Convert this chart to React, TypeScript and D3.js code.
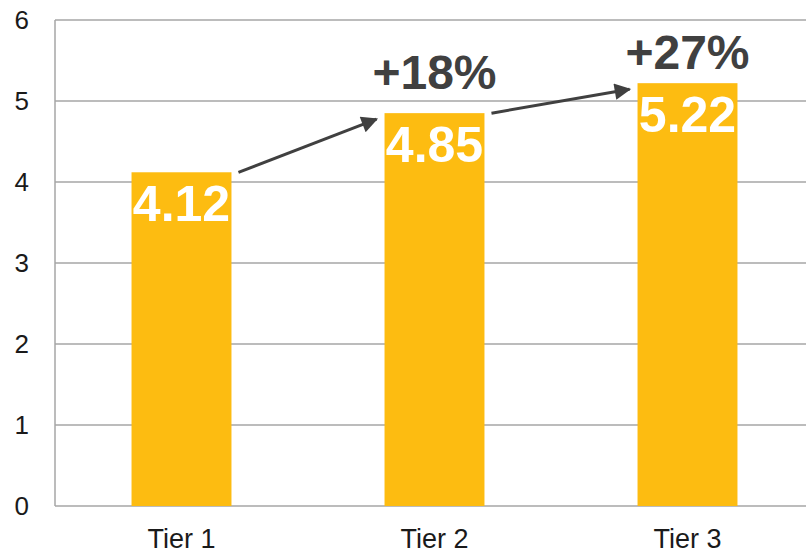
import React from "react";
import * as d3 from "d3";

const categories = ["Tier 1", "Tier 2", "Tier 3"];
const values = [4.12, 4.85, 5.22];
const valueLabels = ["4.12", "4.85", "5.22"];
const yTicks = [0, 1, 2, 3, 4, 5, 6];
const growthLabels = ["+18%", "+27%"];
const growthLevels = [5.15, 5.39];

const W = 806;
const H = 555;
const left = 55;
const top = 20;
const bottom = 506;

export default function App() {
  const x = d3
    .scaleBand<string>()
    .domain(categories)
    .range([left, 814])
    .paddingInner(0.605)
    .paddingOuter(0.3025);
  const y = d3.scaleLinear().domain([0, 6]).range([bottom, top]);
  const bw = x.bandwidth();
  const font = "'Liberation Sans', Arial, sans-serif";
  const dark = "#404040";

  return (
    <svg
      width={W}
      height={H}
      style={{ position: "absolute", left: 0, top: 0, background: "#fff" }}
    >
      <defs>
        <marker
          id="ah"
          viewBox="0 0 10 10"
          refX="9"
          refY="5"
          markerWidth="7"
          markerHeight="5.5"
          markerUnits="strokeWidth"
          orient="auto"
        >
          <path d="M0,0 L10,5 L0,10 z" fill={dark} />
        </marker>
      </defs>
      {yTicks.map((t) => (
        <g key={t}>
          <line
            x1={left}
            x2={W}
            y1={y(t)}
            y2={y(t)}
            stroke="#a6a6a6"
            strokeWidth={1.5}
          />
          <text
            x={29}
            y={y(t)}
            dy="0.36em"
            textAnchor="end"
            fontFamily={font}
            fontSize={26}
            fill="#1a1a1a"
          >
            {t}
          </text>
        </g>
      ))}
      <line x1={left} x2={left} y1={top} y2={bottom} stroke="#a6a6a6" strokeWidth={1.5} />
      {categories.map((c, i) => (
        <g key={c}>
          <rect
            x={x(c)}
            y={y(values[i])}
            width={bw}
            height={bottom - y(values[i])}
            fill="#FDBC11"
          />
          <text
            x={(x(c) as number) + bw / 2}
            y={y(values[i]) + 49}
            textAnchor="middle"
            fontFamily={font}
            fontWeight="bold"
            fontSize={50}
            fill="#fff"
          >
            {valueLabels[i]}
          </text>
          <text
            x={(x(c) as number) + bw / 2}
            y={bottom + 42}
            textAnchor="middle"
            fontFamily={font}
            fontSize={27}
            fill="#1a1a1a"
          >
            {c}
          </text>
        </g>
      ))}
      {growthLabels.map((g, i) => {
        const from = categories[i];
        const to = categories[i + 1];
        const x1 = (x(from) as number) + bw + 7;
        const y1 = y(values[i]);
        const x2 = (x(to) as number) - 8;
        const y2 = y(values[i + 1]) + 6;
        return (
          <g key={g}>
            <line
              x1={x1}
              y1={y1}
              x2={x2}
              y2={y2}
              stroke={dark}
              strokeWidth={3}
              markerEnd="url(#ah)"
            />
            <text
              x={(x(to) as number) + bw / 2}
              y={y(growthLevels[i])}
              textAnchor="middle"
              fontFamily={font}
              fontWeight="bold"
              fontSize={48}
              fill={dark}
            >
              {g}
            </text>
          </g>
        );
      })}
    </svg>
  );
}
